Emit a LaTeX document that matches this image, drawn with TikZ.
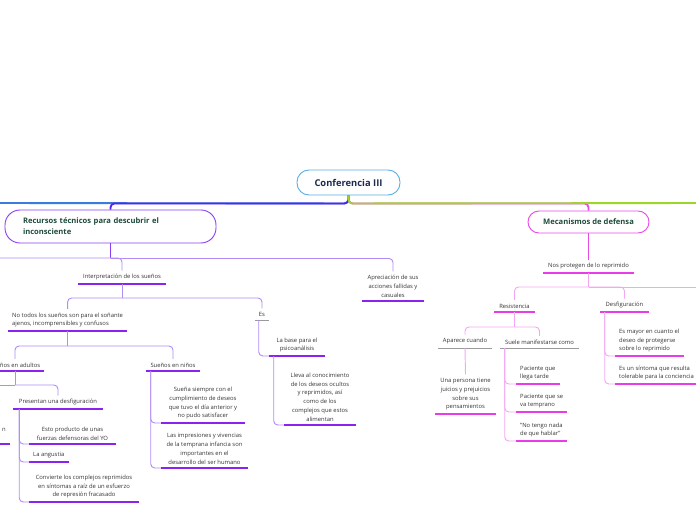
\documentclass[tikz,border=0pt]{standalone}
\usepackage{fontspec}
\setmainfont{Open Sans}
\usepackage{xcolor}
\usetikzlibrary{positioning,calc}

\definecolor{txtgray}{HTML}{333333}
\definecolor{navy}{HTML}{1B2A4E}
\definecolor{topicgreen}{HTML}{1F4A3A}
\definecolor{rootblue}{HTML}{5BAEE3}
\definecolor{bluemain}{HTML}{3A7BE0}
\definecolor{greenmain}{HTML}{9ED52A}
\definecolor{recpurple}{HTML}{8A3FF5}
\definecolor{purpmain}{HTML}{5B22EE}
\definecolor{violetline}{HTML}{8A22F0}
\definecolor{lavlink}{HTML}{B08CF4}
\definecolor{mecpink}{HTML}{E64BE6}
\definecolor{pinkline}{HTML}{E83CE8}
\definecolor{pinklink}{HTML}{F4A6F4}
\definecolor{grayline}{HTML}{9A9A9A}

\begin{document}
\begin{tikzpicture}[x=0.3mm,y=-0.3mm,
  every node/.style={font=\fontsize{5}{7.5}\selectfont,text=txtgray},
  idea/.style={inner xsep=1.2mm,inner ysep=3pt,align=center},
  leftidea/.style={idea,align=left},
  uw/.style={minimum width=#1*0.3mm},
  uline/.style={append after command={\pgfextra{\let\thisnode\tikzlastnode}
      (\thisnode.south west) edge[draw=#1,line width=1.5pt] (\thisnode.south east)}},
  purp/.style={idea,uline=violetline},
  pink/.style={idea,uline=pinkline},
  grayu/.style={idea,append after command={\pgfextra{\let\thisnode\tikzlastnode}
      (\thisnode.south west) edge[draw=grayline,line width=0.6pt] (\thisnode.south east)}},
  topicbox/.style={draw,line width=0.8pt,font=\bfseries\fontsize{6.5}{9.4}\selectfont,text=topicgreen},
  mainline/.style={line width=1.6pt,rounded corners=1.2mm},
  lav/.style={draw=lavlink,line width=0.8pt,rounded corners=1.2mm},
  pinkl/.style={draw=pinklink,line width=0.8pt,rounded corners=1.2mm}]
  \useasboundingbox (0,0) rectangle (696,520);
  \clip (0,0) rectangle (696,520);

  % central topic and main branches
  \node[draw=rootblue,line width=0.8pt,rounded corners=3.6mm,minimum width=30.9mm,minimum height=7.5mm,
    font=\bfseries\fontsize{8}{10}\selectfont,text=navy] (root) at (348.5,182.5) {Conferencia III};
  \node[topicbox,draw=recpurple,text width=52.5mm,inner xsep=5.4mm,align=left,minimum height=9.9mm,
    rounded corners=4.5mm] (recursos) at (110.5,226.5) {Recursos técnicos para descubrir el\\inconsciente};
  \node[topicbox,draw=mecpink,minimum width=36.3mm,minimum height=6.6mm,rounded corners=3.3mm]
    (mecan) at (588.5,222) {Mecanismos de defensa};

  \coordinate (offL) at (-20,203);
  \coordinate (offR) at (720,203);
  \draw[mainline,draw=bluemain] (root.south) -- ++(0,8) -- (offL);
  \draw[mainline,draw=purpmain] (root.south) -- ++(0,8) -| (recursos.north);
  \draw[mainline,draw=mecpink] (root.south) -- ++(0,8) -| (mecan.north);
  \draw[mainline,draw=greenmain] (root.south) -- ++(0,8) -- (offR);

  % Recursos: left side
  \node[purp,uw=88,anchor=south] (interp) at (122,284) {Interpretación de los sueños};
  \node[purp,uw=62,anchor=south] (aprec) at (393,301) {Apreciación de sus\\acciones fallidas y\\casuales};
  \node[purp,align=left,anchor=south west] (notodos) at (8,331) {No todos los sueños son para el soñante\\ajenos, incomprensibles y confusos};
  \node[grayu,uw=14,anchor=south] (es) at (262,320) {Es};
  \node[purp,uw=56,anchor=south] (base) at (297,356) {La base para el\\psicoanálisis};
  \node[purp,uw=72,anchor=south] (lleva) at (320,425) {Lleva al conocimiento\\de los deseos ocultos\\y reprimidos, así\\como de los\\complejos que estos\\alimentan};
  \node[purp,anchor=south] (adultos) at (15,371) {Sueños en adultos};
  \node[purp,uw=54,anchor=south] (ninos) at (173,371) {Sueños en niños};
  \node[purp,text depth=2.7mm,anchor=south east] (nleft) at (10,444) {n};
  \node[purp,uw=89,anchor=south] (pres) at (58,409) {Presentan una desfiguración};
  \node[purp,uw=87,anchor=south] (esto) at (72.5,444) {Esto producto de unas\\fuerzas defensoras del YO};
  \node[purp,align=left,anchor=south west] (angustia) at (29,462) {La angustia};
  \node[purp,uw=110,anchor=south] (conv) at (84,502) {Convierte los complejos reprimidos\\en síntomas a raíz de un esfuerzo\\de represión fracasado};
  \node[purp,uw=84,anchor=south] (suena) at (203,423) {Sueña siempre con el\\cumplimiento de deseos\\que tuvo el día anterior y\\no pudo satisfacer};
  \node[purp,uw=87,anchor=south] (impr) at (204.5,468) {Las impresiones y vivencias\\de la temprana infancia son\\importantes en el\\desarrollo del ser humano};

  \coordinate (offRec) at (-20,258);
  \coordinate (offAd) at (-20,385);
  \draw[line width=1pt,draw=recpurple] (recursos.south) -- ++(0,15) coordinate (jrec);
  \draw[lav] (offRec) -| (interp.north);
  \draw[lav] (jrec) -| (aprec.north);
  \draw[lav] (interp.south) -- ++(0,14) coordinate (jint);
  \draw[lav] (jint) -| (notodos.north);
  \draw[lav] (jint) -| (es.north);
  \draw[lav] ($(es.south west)+(4,0)$) |- (base.south west);
  \draw[lav] ($(base.south west)+(5,0)$) |- (lleva.south west);
  \draw[lav] (notodos.south) -- ++(0,15) coordinate (jno);
  \draw[lav] (jno) -| (adultos.north);
  \draw[lav] (jno) -| (ninos.north);
  \draw[lav] (adultos.south) -- ++(0,14) coordinate (jad);
  \draw[lav] (offAd) -- (jad);
  \draw[lav] (jad) -| (pres.north);
  \draw[lav] ($(pres.south west)+(6,0)$) |- (esto.south west);
  \draw[lav] ($(pres.south west)+(6,0)$) |- (angustia.south west);
  \draw[lav] ($(pres.south west)+(6,0)$) |- (conv.south west);
  \draw[lav] ($(ninos.south west)+(5,0)$) |- (suena.south west);
  \draw[lav] ($(ninos.south west)+(5,0)$) |- (impr.south west);

  % Mecanismos: right side
  \node[pink,uw=91,anchor=south] (nos) at (588.5,273) {Nos protegen de lo reprimido};
  \node[pink,uw=41,anchor=south] (resis) at (514.5,312) {Resistencia};
  \node[pink,uw=49,anchor=south] (desf) at (624.5,312) {Desfiguración};
  \node[grayu,uw=54,anchor=south] (apar) at (465,348) {Aparece cuando};
  \node[grayu,uw=79,anchor=south] (suele) at (539.5,348) {Suele manifestarse como};
  \node[pink,uw=61,anchor=south] (persona) at (465.5,414) {Una persona tiene\\juicios y prejuicios\\sobre sus\\pensamientos};
  \node[pink,align=left,anchor=south west] (tarde) at (516,384) {Paciente que\\llega tarde};
  \node[pink,align=left,anchor=south west] (temprano) at (516,412) {Paciente que se\\va temprano};
  \node[pink,align=left,anchor=south west] (hablar) at (516,441) {"No tengo nada\\de que hablar"};
  \node[pink,align=left,anchor=south west] (mayor) at (615,356) {Es mayor en cuanto el\\deseo de protegerse\\sobre lo reprimido};
  \node[pink,align=left,anchor=south west] (sintoma) at (615,384) {Es un síntoma que resulta\\tolerable para la conciencia};

  \coordinate (offNos) at (720,287);
  \draw[line width=1pt,draw=mecpink] (mecan.south) -- (nos.north);
  \draw[pinkl] (nos.south) -- ++(0,14) coordinate (jnos);
  \draw[pinkl] (jnos) -| (resis.north);
  \draw[pinkl] (jnos) -| (desf.north);
  \draw[pinkl] (jnos) -- (offNos);
  \draw[pinkl] (resis.south) -- ++(0,15) coordinate (jres);
  \draw[pinkl] (jres) -| (apar.north);
  \draw[pinkl] (jres) -| (suele.north);
  \draw[pinkl] (apar.south) -- (persona.north);
  \draw[pinkl] ($(suele.south west)+(5,0)$) |- (tarde.south west);
  \draw[pinkl] ($(suele.south west)+(5,0)$) |- (temprano.south west);
  \draw[pinkl] ($(suele.south west)+(5,0)$) |- (hablar.south west);
  \draw[pinkl] ($(desf.south west)+(5,0)$) |- (mayor.south west);
  \draw[pinkl] ($(desf.south west)+(5,0)$) |- (sintoma.south west);
\end{tikzpicture}
\end{document}
